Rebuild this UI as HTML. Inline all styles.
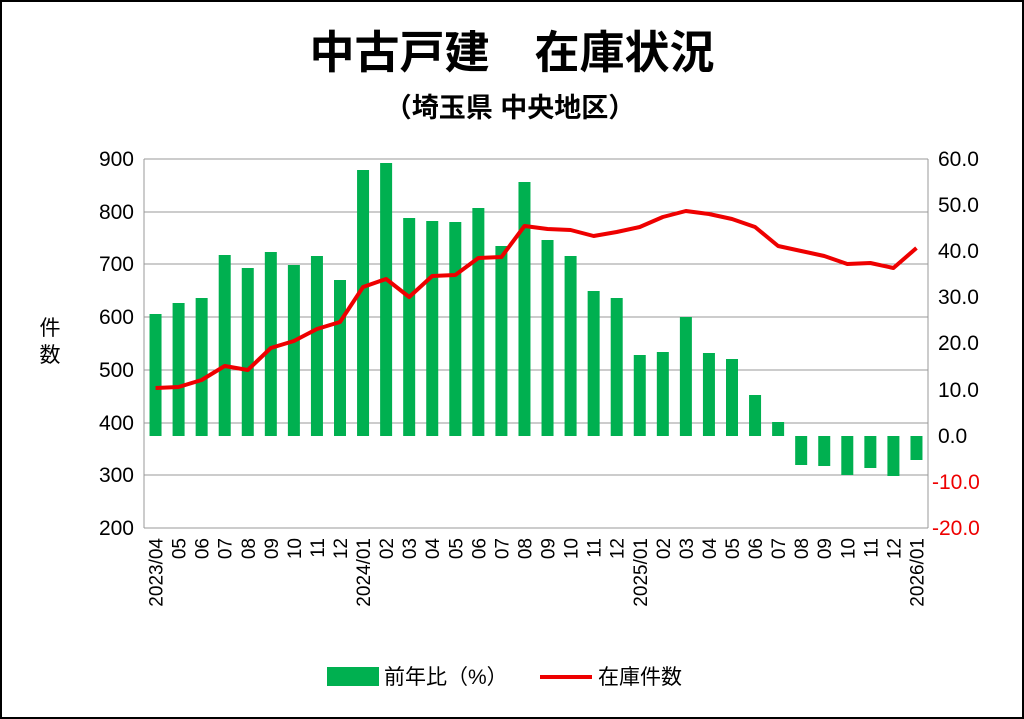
<!DOCTYPE html>
<html><head><meta charset="utf-8"><style>
html,body{margin:0;padding:0;background:#fff}
svg{display:block}
text{font-family:"Liberation Sans","Noto Sans CJK JP",sans-serif}
</style></head><body>
<svg width="1024" height="719" viewBox="0 0 1024 719" xmlns="http://www.w3.org/2000/svg">
<rect x="1" y="1" width="1022" height="717" fill="#fff" stroke="#000" stroke-width="2"/>
<text x="512" y="68" font-size="45" font-weight="bold" text-anchor="middle" font-family="Noto Sans CJK JP,sans-serif">中古戸建　在庫状況</text>
<text x="510" y="117" font-size="27" font-weight="bold" text-anchor="middle" font-family="Noto Sans CJK JP,sans-serif">（埼玉県 中央地区）</text>
<g stroke="#999" stroke-width="1">
<line x1="144" y1="159" x2="928" y2="159"/><line x1="144" y1="212" x2="928" y2="212"/><line x1="144" y1="264" x2="928" y2="264"/><line x1="144" y1="317" x2="928" y2="317"/><line x1="144" y1="370" x2="928" y2="370"/><line x1="144" y1="423" x2="928" y2="423"/><line x1="144" y1="475" x2="928" y2="475"/><line x1="144" y1="528" x2="928" y2="528"/>
<line x1="144" y1="159" x2="144" y2="528"/><line x1="928" y1="159" x2="928" y2="528"/>
</g>
<g font-size="21" text-anchor="end" fill="#000">
<text x="134" y="166">900</text><text x="134" y="219">800</text><text x="134" y="271">700</text><text x="134" y="324">600</text><text x="134" y="377">500</text><text x="134" y="430">400</text><text x="134" y="482">300</text><text x="134" y="535">200</text>
</g>
<g font-size="21" text-anchor="start">
<text x="938" y="166">60.0</text><text x="938" y="212">50.0</text><text x="938" y="258">40.0</text><text x="938" y="304">30.0</text><text x="938" y="350">20.0</text><text x="938" y="397">10.0</text><text x="938" y="443">0.0</text><text x="932" y="489" fill="#e00">-10.0</text><text x="932" y="535" fill="#e00">-20.0</text>
</g>
<text x="50" y="335" font-size="21" text-anchor="middle" font-family="Noto Sans CJK JP,sans-serif">件</text>
<text x="50" y="362" font-size="21" text-anchor="middle" font-family="Noto Sans CJK JP,sans-serif">数</text>
<g fill="#00b050" id="bars"></g>
<polyline id="line" fill="none" stroke="#e00" stroke-width="4" stroke-linejoin="round"/>
<g id="xl" font-size="19"></g>
<rect x="327" y="667" width="52" height="19" fill="#00b050"/>
<text x="384" y="684" font-size="21" font-family="Noto Sans CJK JP,sans-serif">前年比（%）</text>
<line x1="540" y1="677" x2="592" y2="677" stroke="#e00" stroke-width="4"/>
<text x="598" y="684" font-size="21" font-family="Noto Sans CJK JP,sans-serif">在庫件数</text>
<script>
var bars=[314,303,298,255,268,252,265,256,280,170,163,218,221,222,208,246,182,240,256,291,298,355,352,317,353,359,395,422,465,466,475,468,476,460];
var ln=[388,387,380,366,370,348,341,329,322,287,279,297,276,275,258,257,226,229,230,236,232,227,217,211,214,219,227,246,251,256,264,263,268,248];
var labs=["2023/04","05","06","07","08","09","10","11","12","2024/01","02","03","04","05","06","07","08","09","10","11","12","2025/01","02","03","04","05","06","07","08","09","10","11","12","2026/01"];
var ns="http://www.w3.org/2000/svg",w=784/34,b=document.getElementById("bars"),xl=document.getElementById("xl"),pts=[];
for(var i=0;i<34;i++){var cx=144+w*(i+0.5);var r=document.createElementNS(ns,"rect");var t=Math.min(bars[i],436),h=Math.abs(bars[i]-436);r.setAttribute("x",cx-6);r.setAttribute("y",t);r.setAttribute("width",12);r.setAttribute("height",h);b.appendChild(r);pts.push(cx+","+ln[i]);
var tx=document.createElementNS(ns,"text");tx.setAttribute("transform","translate("+(cx+7)+",538) rotate(-90)");tx.setAttribute("text-anchor","end");tx.textContent=labs[i];xl.appendChild(tx);}
document.getElementById("line").setAttribute("points",pts.join(" "));
</script>
</svg>
</body></html>
